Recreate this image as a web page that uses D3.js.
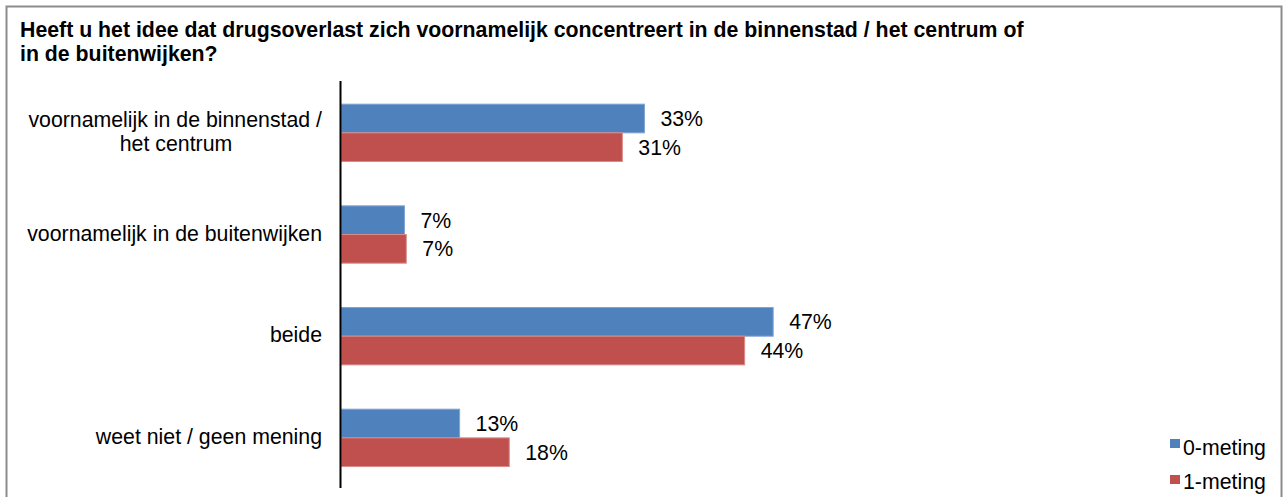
<!DOCTYPE html>
<html>
<head>
<meta charset="utf-8">
<script src="https://cdn.jsdelivr.net/npm/d3@7"></script>
<style>
  body { margin: 0; background: #fff; }
  svg { display: block; font-family: "Liberation Sans", Arial, sans-serif; }
</style>
</head>
<body>
<div id="chart"></div>
<script>
const categories = [
    ["voornamelijk in de binnenstad /", "het centrum"],
    ["voornamelijk in de buitenwijken"],
    ["beide"],
    ["weet niet / geen mening"]
];
const seriesNames = ["0-meting", "1-meting"];
const meting0 = [33, 6.9, 47, 12.9];
const meting1 = [30.6, 7.1, 43.9, 18.3];
const colors = ["#4F81BD", "#C0504D"];
const edgeColors = ["#7fa4d3", "#d98c8a"];
const titleLines = [
    "Heeft u het idee dat drugsoverlast zich voornamelijk concentreert in de binnenstad / het centrum of",
    "in de buitenwijken?"
];

const width = 1288, height = 497;
const fs = 21.3;

const svg = d3.select("#chart").append("svg")
    .attr("width", width)
    .attr("height", height);

// frame
svg.append("rect")
    .attr("x", 6.5).attr("y", 6.5)
    .attr("width", 1275).attr("height", 500)
    .attr("fill", "#fff")
    .attr("stroke", "#8c8c8c")
    .attr("stroke-width", 2);

// title
svg.append("text")
    .attr("font-weight", "bold")
    .attr("font-size", fs)
    .selectAll("tspan")
    .data(titleLines)
    .enter()
    .append("tspan")
    .attr("x", 20)
    .attr("y", (d, i) => 36.5 + i * 24.5)
    .text(d => d);

const rows = categories.map((c, i) => ({key: i, label: c, values: [meting0[i], meting1[i]]}));

const x = d3.scaleLinear()
    .domain([0, 50])
    .range([341, 341 + 50 * 9.195]);

const y = d3.scaleBand()
    .domain(rows.map(d => d.key))
    .range([82, 488.7])
    .paddingInner(0.436)
    .paddingOuter(0.218);

const ySub = d3.scaleBand()
    .domain([0, 1])
    .range([0, y.bandwidth()]);

// bars
const groups = svg.selectAll("g.grp")
    .data(rows)
    .enter()
    .append("g")
    .attr("class", "grp")
    .attr("transform", d => "translate(0," + y(d.key) + ")");

groups.selectAll("rect")
    .data(d => d.values)
    .enter()
    .append("rect")
    .attr("x", x(0))
    .attr("y", (d, i) => ySub(i))
    .attr("width", d => x(d) - x(0))
    .attr("height", ySub.bandwidth())
    .attr("fill", (d, i) => colors[i])
    .attr("stroke", (d, i) => edgeColors[i])
    .attr("stroke-width", 1);

groups.selectAll("text.val")
    .data(d => d.values)
    .enter()
    .append("text")
    .attr("class", "val")
    .attr("x", d => x(d) + 16)
    .attr("y", (d, i) => ySub(i) + ySub.bandwidth() / 2 + 7.5)
    .attr("font-size", fs)
    .attr("fill", "#000")
    .text(d => Math.round(d) + "%");

// y axis
const axis = svg.append("g")
    .attr("transform", "translate(340.5,0)")
    .call(d3.axisLeft(y).tickSize(0).tickSizeOuter(0).tickFormat(""));
axis.select(".domain")
    .attr("stroke", "#000")
    .attr("stroke-width", 2)
    .attr("d", "M0,81V488");

svg.selectAll("text.cat")
    .data(rows)
    .enter()
    .append("text")
    .attr("class", "cat")
    .attr("font-size", fs)
    .each(function(d) {
        const cy = y(d.key) + y.bandwidth() / 2;
        const n = d.label.length;
        d3.select(this).selectAll("tspan")
            .data(d.label)
            .enter()
            .append("tspan")
            .attr("y", (t, i) => cy + 6 + (i - (n - 1) / 2) * 23.4)
            .attr("text-anchor", (t, i) => n > 1 && i > 0 ? "middle" : "end")
            .attr("x", (t, i) => n > 1 && i > 0 ? 176 : 322)
            .text(t => t);
    });

// legend
const legend = svg.append("g");
seriesNames.forEach((s, i) => {
    legend.append("rect")
        .attr("x", 1170)
        .attr("y", 439 + i * 36)
        .attr("width", 10)
        .attr("height", 9)
        .attr("fill", colors[i]);
    legend.append("text")
        .attr("x", 1183)
        .attr("y", 454.5 + i * 34)
        .attr("font-size", fs)
        .text(s);
});
</script>
</body>
</html>
